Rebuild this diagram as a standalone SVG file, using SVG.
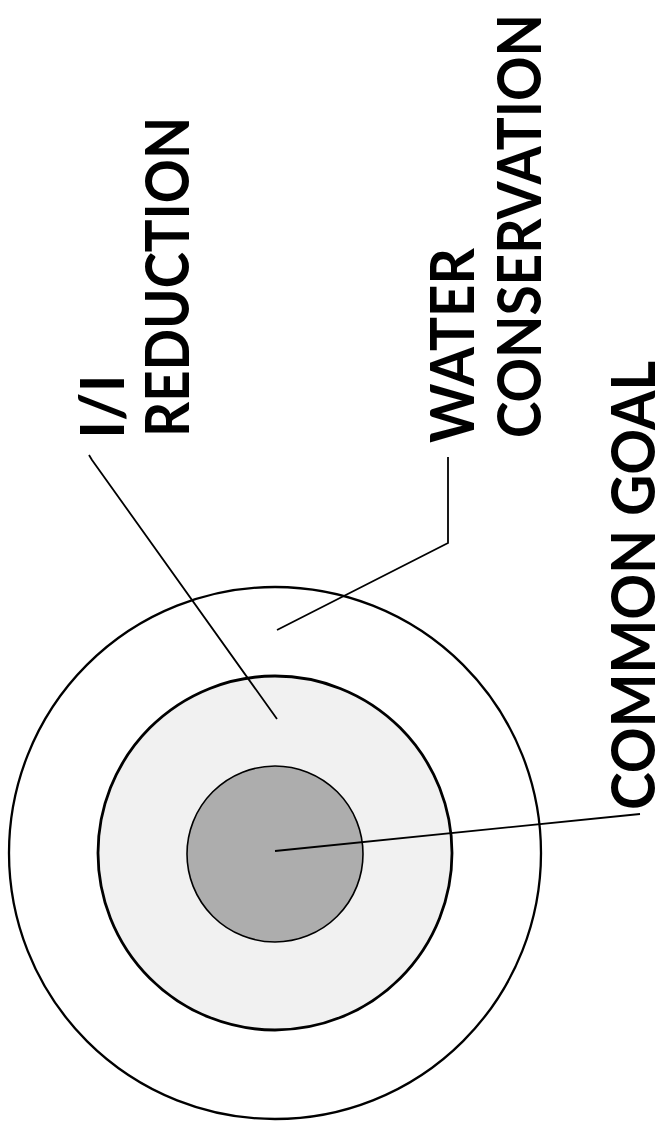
<svg xmlns="http://www.w3.org/2000/svg" width="668" height="1131" viewBox="0 0 668 1131">
<style>
.ring{stroke:#000;}
.lbl{font-family:Lato,"Open Sans","Liberation Sans",sans-serif;font-weight:700;font-size:61px;fill:#000;}
.lead{fill:none;stroke:#000;stroke-width:1.8;stroke-linejoin:miter;}
</style>
<rect width="668" height="1131" fill="#fff"/>
<g id="water-conservation">
<circle class="ring" cx="275" cy="853" r="266" fill="#fff" stroke-width="2.3"/>
</g>
<g id="ii-reduction">
<circle class="ring" cx="275" cy="853" r="177" fill="#f1f1f1" stroke-width="2.8"/>
</g>
<g id="common-goal">
<circle class="ring" cx="275" cy="854" r="88" fill="#adadad" stroke-width="1.6"/>
</g>
<g id="connectors">
<path class="lead" d="M89,455 L92,460 L277,719"/>
<path class="lead" d="M448,457 L448,543 L277,630"/>
<path class="lead" d="M275,851 L640,814" stroke-width="2.6"/>
</g>
<g id="labels">
<text class="lbl" transform="translate(124,439) rotate(-90)">I/I</text>
<text class="lbl" transform="translate(189,437) rotate(-90)" textLength="320" lengthAdjust="spacingAndGlyphs">REDUCTION</text>
<text class="lbl" transform="translate(474,443) rotate(-90)" textLength="195" lengthAdjust="spacingAndGlyphs">WATER</text>
<text class="lbl" transform="translate(541,438) rotate(-90)" textLength="424" lengthAdjust="spacingAndGlyphs">CONSERVATION</text>
<text class="lbl" transform="translate(655,810) rotate(-90)" textLength="449" lengthAdjust="spacingAndGlyphs">COMMON GOAL</text>
</g>
</svg>
